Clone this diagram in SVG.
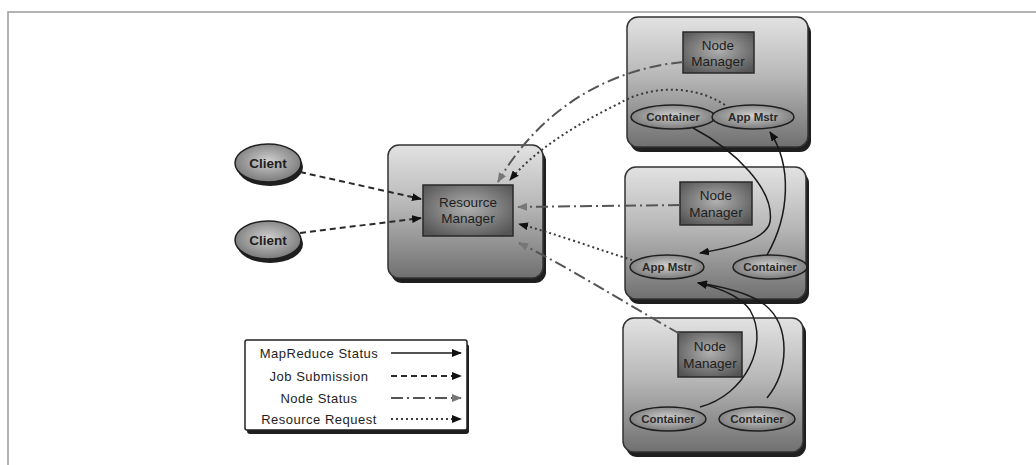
<svg xmlns="http://www.w3.org/2000/svg" width="1036" height="465" viewBox="0 0 1036 465">
<style>
text{font-family:"Liberation Sans",Arial,sans-serif;fill:#1e1e1e;text-anchor:middle}
.box{fill:url(#outerG);stroke:#333;stroke-width:1.5}
.shadow{fill:#1f1f1f}
.inner{fill:url(#innerG);stroke:#2a2a2a;stroke-width:1.5}
.ell{fill:url(#ellG);stroke:#1f1f1f;stroke-width:1.5}
.lbl{font-size:13.5px}
.elbl{font-size:11.5px;font-weight:bold;fill:#2a2a2a}
.leg{font-size:13px;letter-spacing:0.5px}
.solid{fill:none;stroke:#1a1a1a;stroke-width:1.5}
.dash{fill:none;stroke:#2a2a2a;stroke-width:2;stroke-dasharray:6,4}
.dashdot{fill:none;stroke:#555;stroke-width:2;stroke-dasharray:12,4,2,4}
.dot{fill:none;stroke:#3a3a3a;stroke-width:2;stroke-dasharray:2,3}
</style>
<defs>
<linearGradient id="outerG" x1="0" y1="0" x2="0" y2="1">
<stop offset="0" stop-color="#e2e2e2"/>
<stop offset="0.45" stop-color="#b8b8b8"/>
<stop offset="1" stop-color="#707070"/>
</linearGradient>
<radialGradient id="innerG" cx="0.5" cy="0.45" r="0.65">
<stop offset="0" stop-color="#b0b0b0"/>
<stop offset="1" stop-color="#555"/>
</radialGradient>
<radialGradient id="ellG" cx="0.5" cy="0.45" r="0.6">
<stop offset="0" stop-color="#d0d0d0"/>
<stop offset="1" stop-color="#727272"/>
</radialGradient>
<marker id="ab" markerWidth="10" markerHeight="8" refX="9" refY="4" orient="auto" markerUnits="userSpaceOnUse">
<path d="M0,0 L10,4 L0,8 Z" fill="#111"/>
</marker>
<marker id="ag" markerWidth="10" markerHeight="8" refX="9" refY="4" orient="auto" markerUnits="userSpaceOnUse">
<path d="M0,0 L10,4 L0,8 Z" fill="#777"/>
</marker>
</defs>
<rect width="1036" height="465" fill="#fff"/>
<path d="M8,465 V12 H1036" fill="none" stroke="#999" stroke-width="1.5"/>

<g id="client1">
<ellipse class="shadow" cx="270" cy="167" rx="33" ry="19"/>
<ellipse class="ell" cx="268" cy="163" rx="33" ry="19"/>
<text class="lbl" x="268" y="168" font-weight="bold" fill="#2a2a2a">Client</text>
</g>
<g id="client2">
<ellipse class="shadow" cx="270" cy="244" rx="33" ry="19"/>
<ellipse class="ell" cx="268" cy="240" rx="33" ry="19"/>
<text class="lbl" x="268" y="245" font-weight="bold" fill="#2a2a2a">Client</text>
</g>

<g id="resourcemanager">
<rect class="shadow" x="391" y="150" width="155" height="133" rx="11"/>
<rect class="box" x="388" y="145" width="155" height="133" rx="11"/>
<rect class="inner" x="423" y="185" width="90" height="51"/>
<text class="lbl" x="468" y="207">Resource</text>
<text class="lbl" x="468" y="223">Manager</text>
</g>

<g id="node1">
<rect class="shadow" x="630" y="22" width="181" height="130" rx="11"/>
<rect class="box" x="627" y="17" width="181" height="130" rx="11"/>
<rect class="inner" x="683" y="32" width="71" height="41"/>
<text class="lbl" x="718" y="50">Node</text>
<text class="lbl" x="718" y="66">Manager</text>
<ellipse class="ell" cx="673" cy="117" rx="42" ry="12"/>
<text class="elbl" x="673" y="121">Container</text>
<ellipse class="ell" cx="753" cy="117" rx="41" ry="12"/>
<text class="elbl" x="753" y="121">App Mstr</text>
</g>

<g id="node2">
<rect class="shadow" x="628" y="172" width="181" height="132" rx="11"/>
<rect class="box" x="625" y="167" width="181" height="132" rx="11"/>
<rect class="inner" x="680" y="182" width="72" height="43"/>
<text class="lbl" x="716" y="200">Node</text>
<text class="lbl" x="716" y="217">Manager</text>
<ellipse class="ell" cx="667" cy="267" rx="37" ry="12"/>
<text class="elbl" x="667" y="271">App Mstr</text>
<ellipse class="ell" cx="770" cy="267" rx="37" ry="12"/>
<text class="elbl" x="770" y="271">Container</text>
</g>

<g id="node3">
<rect class="shadow" x="626" y="322" width="180" height="135" rx="11"/>
<rect class="box" x="623" y="318" width="180" height="134" rx="11"/>
<rect class="inner" x="678" y="332" width="64" height="45"/>
<text class="lbl" x="710" y="351">Node</text>
<text class="lbl" x="710" y="368">Manager</text>
<ellipse class="ell" cx="668" cy="419" rx="38" ry="12"/>
<text class="elbl" x="668" y="423">Container</text>
<ellipse class="ell" cx="757" cy="419" rx="38" ry="12"/>
<text class="elbl" x="757" y="423">Container</text>
</g>

<g id="legend">
<rect class="shadow" x="247" y="344" width="222" height="90" rx="3"/>
<rect x="245" y="340" width="222" height="90" rx="2" fill="#fff" stroke="#222" stroke-width="1.5"/>
<text class="leg" x="319" y="358">MapReduce Status</text>
<text class="leg" x="319" y="381">Job Submission</text>
<text class="leg" x="319" y="403">Node Status</text>
<text class="leg" x="319" y="424">Resource Request</text>
<path class="solid" d="M391,353 H461" marker-end="url(#ab)"/>
<path class="dash" d="M391,376 H461" stroke-width="1.5" marker-end="url(#ab)"/>
<path class="dashdot" d="M391,398 H461" stroke-width="1.5" marker-end="url(#ag)"/>
<path class="dot" d="M391,419 H461" stroke-width="1.5" marker-end="url(#ab)"/>
</g>

<g id="connectors">
<path class="dash" d="M300,172 L421,199" marker-end="url(#ab)"/>
<path class="dash" d="M300,233 L421,218" marker-end="url(#ab)"/>
<path class="dashdot" d="M683,62 C620,68 545,100 498,182" marker-end="url(#ag)"/>
<path class="dot" d="M725,105 C690,82 645,88 620,103 C575,125 535,150 510,180" marker-end="url(#ab)"/>
<path class="dashdot" d="M680,205 L518,207" marker-end="url(#ag)"/>
<path class="dot" d="M632,260 C600,250 550,232 519,224" marker-end="url(#ab)"/>
<path class="dashdot" d="M680,334 C620,300 570,268 519,243" marker-end="url(#ag)"/>
<path class="solid" d="M693,128 C735,150 775,190 770,222 C766,240 730,248 700,253" marker-end="url(#ab)"/>
<path class="solid" d="M767,255 C790,215 792,165 770,132" marker-end="url(#ab)"/>
<path class="solid" d="M700,407 C745,395 770,345 750,310 C740,296 720,288 698,283" marker-end="url(#ab)"/>
<path class="solid" d="M767,398 C790,370 790,325 765,305 C750,293 725,287 698,283" marker-end="url(#ab)"/>
</g>
</svg>
